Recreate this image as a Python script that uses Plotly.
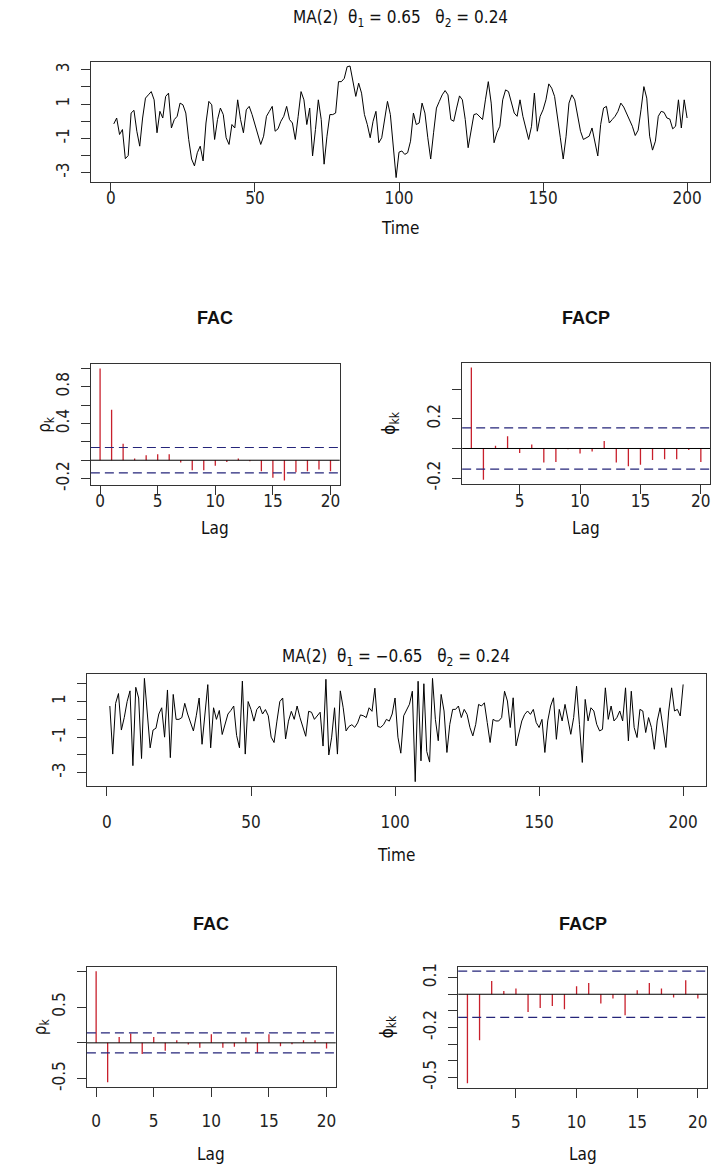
import plotly.graph_objects as go

W, H = 721, 1174
OFF = 8      # the page body keeps an 8px margin around the figure
VIS_W = 713  # width of the page that actually shows in the window

# ---- values ----
ts_time = list(range(1, 201))

# MA(2) theta1 = 0.65, theta2 = 0.24
ma_pos = [
    -0.15, 0.19, -0.77, -0.48, -2.18, -2.0, 0.48, 0.64, -0.58, -1.45,
    0.19, 1.35, 1.54, 1.73, 1.25, -0.67, 0.58, 0.19, 1.45, 1.64,
    -0.39, 0.1, 0.29, 1.06, 0.96, 0.48, -1.06, -2.2, -2.6, -1.83,
    -1.45, -2.31, -0.1, 1.16, 0.96, -1.06, 0.1, 0.77, 0.39, -0.96,
    -1.35, -0.19, -0.39, 1.25, 0.1, -0.67, 0.67, 0.87, 0.39, -0.19,
    -0.87, -1.35, -0.87, 0.29, 0.58, 0.87, -0.58, -0.44, 0.0, 0.29,
    0.87, 0.1, -0.1, -1.06, 0.29, 1.73, 1.25, -0.19, 0.77, -2.02,
    -0.48, 1.25, 0.1, -2.5, -0.87, 0.39, 0.39, 0.48, 2.31, 2.31,
    2.5, 3.18, 3.22, 2.41, 1.45, 2.22, 1.64, 0.39, -0.19, -0.96,
    0.0, 0.58, -1.25, -0.96, 0.0, 1.16, 0.39, -1.5, -3.28, -1.8,
    -1.73, -1.93, -1.83, -1.16, 0.48, -0.19, -0.1, 1.06, 0.48, -0.96,
    -2.2, -0.67, 0.77, 1.16, 1.54, 1.79, 1.54, 0.1, 0.0, 0.77,
    1.48, 1.25, 0.1, -1.54, -0.58, 0.39, 0.44, 0.25, 0.1, 1.25,
    2.31, 1.06, -1.25, -0.67, -0.29, 1.25, 1.83, 1.73, 1.06, 0.48,
    0.29, 1.25, 0.29, -0.48, -1.06, -0.29, 1.64, -0.58, 0.29, 0.67,
    1.25, 2.18, 1.93, 1.45, 0.1, -0.96, -2.2, -0.87, 1.06, 1.54,
    1.25, 0.29, -0.58, -1.06, -0.96, -0.87, -0.39, -1.16, -2.02, -0.19,
    0.77, 0.87, -0.1, 0.1, 0.29, 0.58, 1.06, 0.83, 0.48, 0.13,
    -0.29, -0.83, -0.52, 0.67, 2.02, 1.35, -0.87, -1.68, -1.16, 0.29,
    0.58, 0.52, 0.19, 0.13, -0.44, -0.29, 1.25, -0.39, 1.25, 0.19,
]

# MA(2) theta1 = -0.65, theta2 = 0.24
ma_neg = [
    0.75, -1.95, 0.9, 1.45, -0.6, 0.1, 1.0, 1.6, -2.6, 1.8,
    1.2, -2.2, 2.3, 0.55, -1.6, -0.6, -0.5, 0.3, 0.65, -1.0,
    1.65, -2.15, 1.4, 0.0, 0.0, 0.1, 0.9, 0.3, -0.2, -0.65,
    0.2, 1.2, -1.4, 0.5, 1.95, -1.6, 0.65, 0.0, 0.5, -0.85,
    -0.3, 0.3, 0.5, 0.75, -0.9, -1.6, 2.15, -1.95, 1.0, 0.55,
    -0.1, 0.55, 0.75, 0.3, 0.55, 0.2, -1.0, -1.3, -0.1, 1.0,
    1.2, -1.1, -0.1, 0.45, 0.0, 0.75, 0.1, -0.45, -0.95, 0.45,
    0.4, 0.0, 0.2, 0.4, -1.5, 2.25, -2.0, -1.0, 0.65, -1.95,
    1.6, 0.65, -0.65, -0.4, -0.3, -0.45, -0.2, 0.25, 0.2, 0.1,
    0.65, 0.45, 1.75, -0.4, -0.45, -0.3, 0.0, -0.1, 0.3, 1.2,
    -1.0, -1.9, 0.2, 0.5, 0.85, 1.58, -3.5, 2.14, -2.33, 2.0,
    -1.8, -2.4, 2.3, 0.0, -1.2, 1.4, 0.47, -1.86, -0.28, 0.56,
    0.56, 0.75, 0.1, 0.56, 0.28, -0.46, -0.93, -0.28, 0.84, 0.75,
    0.93, -0.18, -1.3, 0.0, -0.09, -0.09, 0.1, 1.58, 1.03, -0.46,
    1.21, -1.49, -0.84, -0.09, 0.28, 0.47, 0.28, 0.56, -0.18, -0.46,
    0.0, -1.86, -0.09, 0.75, 1.21, -1.12, 0.56, -0.09, 0.84, -0.09,
    -0.84, 0.1, 1.86, -0.28, -2.42, 1.12, -0.09, 0.65, 0.47, -0.28,
    -0.65, -0.56, 1.77, 0.0, 0.75, -0.09, 0.1, 0.47, -0.09, 1.77,
    -1.21, 1.58, -0.46, -1.02, 0.56, 0.47, -0.74, 0.1, -0.46, -1.68,
    -0.09, 0.65, -0.46, -1.58, 0.47, 1.77, 0.47, 0.56, 0.19, 1.96,
]

acf_lags = list(range(0, 21))
pacf_lags = list(range(1, 21))

acf_pos = [1.0, 0.55, 0.18, 0.02, 0.054, 0.065, 0.065, -0.025, -0.11, -0.11,
           -0.06, -0.02, 0.02, -0.01, -0.12, -0.19, -0.22, -0.13, -0.12, -0.10, -0.12]
pacf_pos = [0.545, -0.21, 0.018, 0.082, -0.03, 0.027, -0.095, -0.09, -0.005, -0.033,
            -0.02, 0.05, -0.095, -0.12, -0.11, -0.078, -0.073, -0.073, -0.01, -0.09]
acf_neg = [1.0, -0.55, 0.083, 0.13, -0.157, 0.083, -0.11, 0.037, -0.023, -0.07,
           0.12, -0.07, -0.055, 0.074, -0.139, 0.12, -0.046, -0.02, 0.037, 0.037, -0.08]
pacf_neg = [-0.535, -0.276, 0.08, 0.02, 0.034, -0.106, -0.082, -0.07, -0.09, 0.048,
            0.068, -0.056, -0.026, -0.126, 0.024, 0.068, 0.034, -0.02, 0.084, -0.026]

n_obs = 200
clim = 1.96 / n_obs ** 0.5

# y ticks: the labelled ones, and the ones R drew without a label
ts1_yticks, ts1_yminor = [-3, -1, 1, 3], [-2, 0, 2]
ts2_yticks, ts2_yminor = [-3, -1, 1], [-2, 0, 2]
acf1_yticks, acf1_yminor = [-0.2, 0.4, 0.8], [0, 0.2, 0.6, 1.0]
pacf1_yticks, pacf1_yminor = [-0.2, 0.2], [0, 0.4]
acf2_yticks, acf2_yminor = [-0.5, 0.5], [0, 1.0]
pacf2_yticks, pacf2_yminor = [-0.5, -0.2, 0.1], [-0.4, -0.3, -0.1, 0]
ts_xticks = [0, 50, 100, 150, 200]
acf_xticks = [0, 5, 10, 15, 20]
pacf_xticks = [5, 10, 15, 20]

title_pos = "MA(2)  θ<sub>1</sub> = 0.65   θ<sub>2</sub> = 0.24"
title_neg = "MA(2)  θ<sub>1</sub> = −0.65   θ<sub>2</sub> = 0.24"

FONT = "Liberation Sans Narrow, Arial Narrow, DejaVu Sans Condensed, Liberation Sans, Arial, sans-serif"
BOLD = "Liberation Sans, Arial, sans-serif"
BOX = "#333333"
RED = "#c8202c"
NAVY = "#25257a"

SX = VIS_W / W
FW, FH = VIS_W - OFF, H - OFF


def fx(px):
    return (px * SX - OFF) / FW


def fy(py):
    return 1 - (py - OFF) / FH


def r_range(vals):
    # R pads the data range by 4% on each side
    lo, hi = min(vals), max(vals)
    pad = 0.04 * (hi - lo)
    return [lo - pad, hi + pad]


def stems(lags, vals):
    xs, ys = [], []
    for l, v in zip(lags, vals):
        xs += [l, l, None]
        ys += [0, v, None]
    return xs, ys


# box of each panel in reference pixels, plus label offsets
panels = [
    dict(x=(92, 719), y=(58, 179.5), xso=-8, xlab=46, ylab=None, top=None),
    dict(x=(92, 344), y=(363, 485), xso=-8, xlab=43, ylab=46, top=46),
    dict(x=(468, 719), y=(362, 484.3), xso=-8, xlab=43.7, ylab=396, top=45),
    dict(x=(88, 715), y=(676, 788.5), xso=12, xlab=70, ylab=None, top=None),
    dict(x=(88, 340), y=(971, 1092), xso=10, xlab=68, ylab=42, top=43),
    dict(x=(464, 716), y=(971, 1093), xso=10, xlab=67, ylab=393, top=43),
]

fig = go.Figure()
layout = dict(width=FW, height=FH, margin=dict(l=0, r=0, t=0, b=0),
              paper_bgcolor="white", plot_bgcolor="white", showlegend=False)


def axis_common():
    return dict(showline=True, linecolor=BOX, linewidth=1, mirror=True,
                ticks="outside", ticklen=9, tickwidth=1, tickcolor=BOX,
                showgrid=False, zeroline=False, fixedrange=True,
                tickfont=dict(family=FONT, size=17, color="#222222"))


def add_panel(i, xrange, yrange, xt, yt, ym):
    p = panels[i - 1]
    sfx = "" if i == 1 else str(i)
    xa = axis_common()
    xa.update(domain=[fx(p["x"][0]), fx(p["x"][1])], range=xrange,
              tickmode="array", tickvals=xt, ticktext=[str(v) for v in xt],
              anchor="y" + sfx, ticklabelstandoff=p["xso"])
    ya = axis_common()
    ya.update(domain=[fy(p["y"][1]), fy(p["y"][0])], range=yrange,
              tickmode="array", tickvals=yt, ticktext=["%g" % v for v in yt],
              tickangle=-90, anchor="x" + sfx, ticklabelstandoff=5,
              minor=dict(tickmode="array", tickvals=ym, ticks="outside", ticklen=9,
                         tickwidth=1, tickcolor=BOX, showgrid=False))
    layout["xaxis" + sfx] = xa
    layout["yaxis" + sfx] = ya
    return "x" + sfx, "y" + sfx


# time series panels
ts_xr = r_range(ts_time)
for i, series, yt, ym in [(1, ma_pos, ts1_yticks, ts1_yminor),
                          (4, ma_neg, ts2_yticks, ts2_yminor)]:
    xr, yr = add_panel(i, ts_xr, r_range(series), ts_xticks, yt, ym)
    fig.add_trace(go.Scatter(x=ts_time, y=series, mode="lines", xaxis=xr, yaxis=yr,
                             line=dict(color="black", width=1), hoverinfo="skip"))

# correlogram panels
corr = [
    (2, acf_lags, acf_pos, acf_xticks, acf1_yticks, acf1_yminor),
    (3, pacf_lags, pacf_pos, pacf_xticks, pacf1_yticks, pacf1_yminor),
    (5, acf_lags, acf_neg, acf_xticks, acf2_yticks, acf2_yminor),
    (6, pacf_lags, pacf_neg, pacf_xticks, pacf2_yticks, pacf2_yminor),
]
shapes = []
for i, lags, vals, xt, yt, ym in corr:
    yr_vals = list(vals) + [clim, -clim]
    xr, yr = add_panel(i, r_range(lags), r_range(yr_vals), xt, yt, ym)
    sx, sy = stems(lags, vals)
    fig.add_trace(go.Scatter(x=sx, y=sy, mode="lines", xaxis=xr, yaxis=yr,
                             line=dict(color=RED, width=1.3), hoverinfo="skip"))
    shapes.append(dict(type="line", xref=xr + " domain", yref=yr, x0=0, x1=1, y0=0, y1=0,
                       line=dict(color="black", width=1)))
    for c in (clim, -clim):
        shapes.append(dict(type="line", xref=xr + " domain", yref=yr, x0=0, x1=1, y0=c, y1=c,
                           line=dict(color=NAVY, width=1.2, dash="9px,5px")))
layout["shapes"] = shapes


def note(text, px, py, size=17, family=FONT, angle=0):
    return dict(text=text, x=fx(px), y=fy(py), xref="paper", yref="paper",
                showarrow=False, xanchor="center", yanchor="middle", textangle=angle,
                font=dict(family=family, size=size, color="#111111"))


def cx(i):
    return (panels[i - 1]["x"][0] + panels[i - 1]["x"][1]) / 2


def cy(i):
    return (panels[i - 1]["y"][0] + panels[i - 1]["y"][1]) / 2


ann = [
    note(title_pos, cx(1), 15, size=17),
    note(title_neg, cx(4), 659, size=17),
]
for i in (1, 4):
    p = panels[i - 1]
    ann.append(note("Time", cx(i), p["y"][1] + p["xlab"]))
for i, name, ylab in [(2, "FAC", "ρ<sub>k</sub>"), (3, "FACP", "ϕ<sub>kk</sub>"),
                      (5, "FAC", "ρ<sub>k</sub>"), (6, "FACP", "ϕ<sub>kk</sub>")]:
    p = panels[i - 1]
    ann.append(note("<b>" + name + "</b>", cx(i), p["y"][0] - p["top"], size=18, family=BOLD))
    ann.append(note("Lag", cx(i), p["y"][1] + p["xlab"]))
    ann.append(note(ylab, p["ylab"], cy(i), angle=-90))
layout["annotations"] = ann

fig.update_layout(**layout)
fig.write_html("out.html")
